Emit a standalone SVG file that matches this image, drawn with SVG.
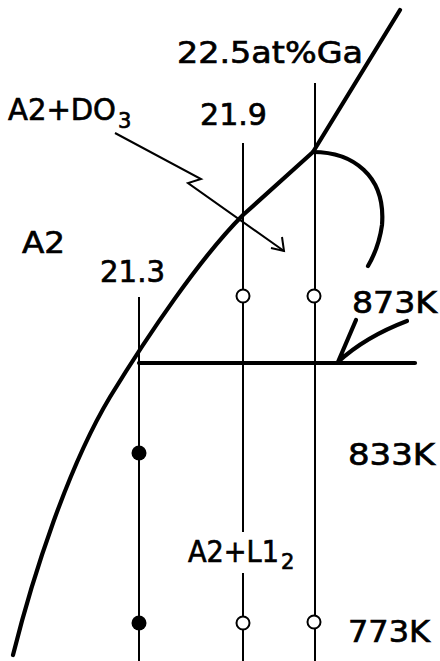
<svg xmlns="http://www.w3.org/2000/svg" width="440" height="661" viewBox="0 0 440 661">
<style>
.thin{fill:none;stroke:#000;stroke-width:2}
.thick{fill:none;stroke:#000;stroke-width:4.2;stroke-linecap:round;stroke-linejoin:round}
.t{font-family:"DejaVu Sans","Liberation Sans",sans-serif;font-size:31px;fill:#000;stroke:#000;stroke-width:0.7}
.s{font-size:21px}
.open{fill:#fff;stroke:#000;stroke-width:2}
</style>
<rect width="440" height="661" fill="#fff"/>
<g id="connectors">
<line class="thin" x1="315" y1="83" x2="315" y2="661"/>
<line class="thin" x1="243" y1="143" x2="243" y2="532"/>
<line class="thin" x1="243" y1="573" x2="243" y2="661"/>
<line class="thin" x1="139" y1="297" x2="139" y2="661"/>
<path class="thick" d="M400,10 L313,152 L243,215 C200,258 148,335 110,397 C68,467 33,575 13,655"/>
<line class="thick" x1="139" y1="363" x2="415" y2="363"/>
<path class="thick" d="M313,152 C352,152 386,175 382,225 Q379,247 368,266"/>
<path class="thick" d="M407,321 Q365,337 338,362 L356,320"/>
<polyline class="thin" points="115,133 201,179 188,183 284,251"/>
<polyline class="thin" points="282,237 284,251 271,248"/>
</g>
<g id="points">
<circle class="open" cx="243" cy="296" r="6.5"/>
<circle class="open" cx="314" cy="296" r="6.5"/>
<circle class="open" cx="243" cy="623" r="6.5"/>
<circle class="open" cx="314" cy="622" r="6.5"/>
<circle cx="139" cy="453" r="7.5"/>
<circle cx="139" cy="623" r="7.5"/>
</g>
<g id="labels">
<text class="t" x="177" y="63" textLength="186" lengthAdjust="spacingAndGlyphs">22.5at%Ga</text>
<text class="t" x="200" y="125" textLength="67" lengthAdjust="spacingAndGlyphs">21.9</text>
<text class="t" x="8" y="120" textLength="108" lengthAdjust="spacingAndGlyphs">A2+DO</text>
<text class="t s" x="118" y="128">3</text>
<text class="t" x="22" y="253" textLength="43" lengthAdjust="spacingAndGlyphs">A2</text>
<text class="t" x="100" y="282" textLength="65" lengthAdjust="spacingAndGlyphs">21.3</text>
<text class="t" x="352" y="313" textLength="85" lengthAdjust="spacingAndGlyphs">873K</text>
<text class="t" x="348" y="465" textLength="87" lengthAdjust="spacingAndGlyphs">833K</text>
<text class="t" x="188" y="562" textLength="91" lengthAdjust="spacingAndGlyphs">A2+L1</text>
<text class="t s" x="281" y="569">2</text>
<text class="t" x="348" y="642" textLength="82" lengthAdjust="spacingAndGlyphs">773K</text>
</g>
</svg>
